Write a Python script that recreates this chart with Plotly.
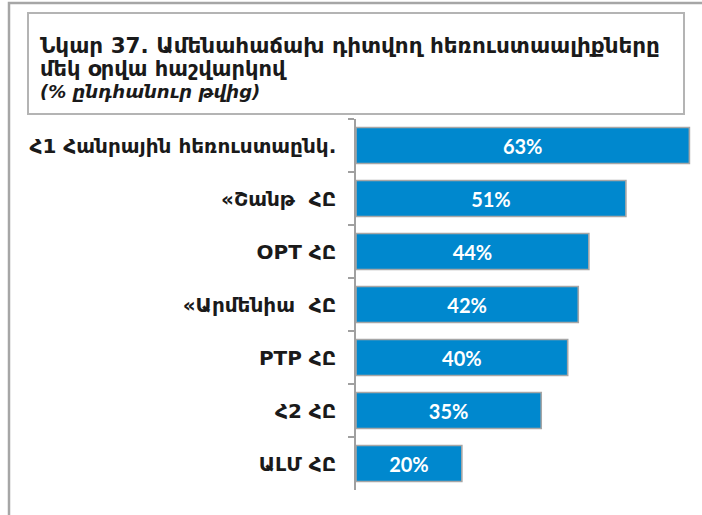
import plotly.graph_objects as go

categories = [
    "Հ1 Հանրային հեռուստաընկ.",
    "«Շանթ  ՀԸ",
    "OPT ՀԸ",
    "«Արմենիա  ՀԸ",
    "PTP ՀԸ",
    "Հ2 ՀԸ",
    "ԱԼՄ ՀԸ",
]
values = [63, 51, 44, 42, 40, 35, 20]

title_line1 = "Նկար 37. Ամենահաճախ դիտվող հեռուստաալիքները"
title_line2 = "մեկ օրվա հաշվարկով"
title_line3 = "(% ընդհանուր թվից)"

W_PX, H_PX = 702, 515
L, R, T, B = 356, 11, 119, 25
PW = W_PX - L - R
PH = H_PX - T - B


def px(x):
    return (x - L) / PW


def py(y):
    return 1 - (y - T) / PH


fig = go.Figure(
    go.Bar(
        x=values,
        y=categories,
        orientation="h",
        marker=dict(color="#0088CE", line=dict(color="#A6A6A6", width=1.6)),
        texttemplate="%{x}%",
        textposition="inside",
        insidetextanchor="middle",
        textangle=0,
        textfont=dict(family="Lato", size=20, color="white", weight="bold"),
        hoverinfo="skip",
    )
)

fig.update_layout(
    width=W_PX,
    height=H_PX,
    margin=dict(l=L, r=R, t=T, b=B),
    paper_bgcolor="white",
    plot_bgcolor="white",
    showlegend=False,
    bargap=0.32,
    font=dict(family="DejaVu Sans", color="#1A1A1A"),
)

fig.update_xaxes(
    range=[0, 63.3],
    showticklabels=False,
    showgrid=False,
    zeroline=False,
    showline=False,
    fixedrange=True,
)
fig.update_yaxes(
    type="category",
    categoryorder="array",
    categoryarray=categories,
    autorange="reversed",
    showline=True,
    linecolor="#A0A0A0",
    linewidth=1.5,
    ticks="outside",
    tickson="boundaries",
    ticklen=6,
    tickcolor="#A0A0A0",
    tickwidth=1.5,
    ticklabelstandoff=14,
    tickfont=dict(family="DejaVu Sans", size=20, color="#1A1A1A", weight="bold"),
    showgrid=False,
    fixedrange=True,
)

shapes = [
    # outer frame (left and top edges visible)
    dict(type="rect", xref="paper", yref="paper",
         x0=px(9), x1=px(712), y0=py(3), y1=py(525),
         line=dict(color="#A6A6A6", width=2.5), fillcolor="rgba(0,0,0,0)", layer="below"),
    # title box
    dict(type="rect", xref="paper", yref="paper",
         x0=px(28), x1=px(684), y0=py(13), y1=py(114),
         line=dict(color="#B4B4B4", width=2), fillcolor="rgba(0,0,0,0)", layer="below"),
]
fig.update_layout(shapes=shapes)

annotations = [
    dict(text=title_line1, x=px(38), y=py(45), size=21.5, italic=False),
    dict(text=title_line2, x=px(38), y=py(69), size=21, italic=False),
    dict(text=title_line3, x=px(38), y=py(92), size=18, italic=True),
]
for a in annotations:
    fig.add_annotation(
        text=a["text"], xref="paper", yref="paper", x=a["x"], y=a["y"],
        xanchor="left", yanchor="middle", showarrow=False,
        font=dict(family="DejaVu Sans", size=a["size"], color="#1A1A1A", weight="bold",
                  style="italic" if a["italic"] else "normal"),
    )

fig.write_html(
    "out.html",
    config={"displayModeBar": False},
    post_script="document.body.style.margin='0';document.body.style.overflow='hidden';",
)
